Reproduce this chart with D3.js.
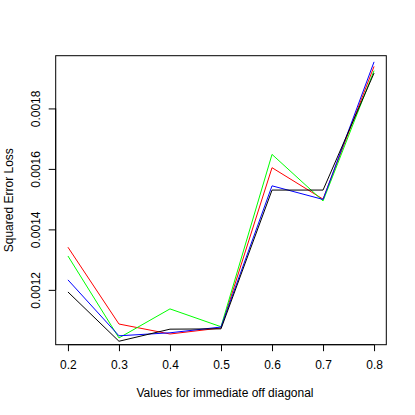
<!DOCTYPE html>
<html>
<head>
<meta charset="utf-8">
<script src="https://cdn.jsdelivr.net/npm/d3@7"></script>
<style>
  body { margin: 0; background: #fff; }
  text { font-family: "Liberation Sans", Arial, sans-serif; font-size: 12px; fill: #000; }
</style>
</head>
<body>
<div id="chart"></div>
<script>
// values
var xVals = [0.2, 0.3, 0.4, 0.5, 0.6, 0.7, 0.8];
var red   = [0.001341, 0.001087, 0.001054, 0.001074, 0.001604, 0.001500, 0.001939];
var green = [0.001312, 0.001041, 0.001137, 0.001078, 0.001648, 0.001494, 0.001925];
var blue  = [0.001233, 0.001048, 0.001058, 0.001077, 0.001544, 0.001499, 0.001954];
var black = [0.001193, 0.001030, 0.001070, 0.001071, 0.001530, 0.001530, 0.001917];
var xTicks = [0.2, 0.3, 0.4, 0.5, 0.6, 0.7, 0.8];
var yTicks = [0.0012, 0.0014, 0.0016, 0.0018];

var W = 415, H = 415;
var plotL = 55.7, plotR = 386.3, plotT = 55.7, plotB = 344.7;

// R style: 4% padding, ylim taken from the first (red) series
function pad(ext) {
    var d = (ext[1] - ext[0]) * 0.04;
    return [ext[0] - d, ext[1] + d];
}

var x = d3.scaleLinear().domain(pad(d3.extent(xVals))).range([plotL, plotR]);
var y = d3.scaleLinear().domain(pad(d3.extent(red))).range([plotB, plotT]);

var svg = d3.select("#chart")
    .append("svg")
    .attr("width", W)
    .attr("height", H);

var line = d3.line()
    .x(function(d, i) { return x(xVals[i]); })
    .y(function(d) { return y(d); });

var series = [[red, "#ff0000"], [green, "#00ff00"], [blue, "#0000ff"], [black, "#000000"]];

for (var i = 0; i < series.length; i++) {
    svg.append("path")
        .datum(series[i][0])
        .attr("d", line)
        .attr("fill", "none")
        .attr("stroke", series[i][1])
        .attr("stroke-width", 1);
}

// box
svg.append("rect")
    .attr("x", plotL)
    .attr("y", plotT)
    .attr("width", plotR - plotL)
    .attr("height", plotB - plotT)
    .attr("fill", "none")
    .attr("stroke", "#000")
    .attr("stroke-width", 1);

// x axis
var xAxis = d3.axisBottom(x)
    .tickValues(xTicks)
    .tickSize(6.5)
    .tickFormat(d3.format(".1f"));

var gx = svg.append("g")
    .attr("transform", "translate(0," + plotB + ")")
    .call(xAxis);
gx.select(".domain")
    .attr("d", "M" + x(xTicks[0]) + ",0H" + x(xTicks[xTicks.length - 1]));
gx.selectAll("text")
    .attr("font-family", "Liberation Sans, Arial, sans-serif")
    .attr("font-size", 12)
    .attr("dy", null)
    .attr("y", 24.6);

// y axis, labels rotated like R's default las=0
var yAxis = d3.axisLeft(y)
    .tickValues(yTicks)
    .tickSize(7)
    .tickFormat(d3.format(".4f"));

var gy = svg.append("g")
    .attr("transform", "translate(" + plotL + ",0)")
    .call(yAxis);
gy.select(".domain")
    .attr("d", "M0," + y(yTicks[0]) + "V" + y(yTicks[yTicks.length - 1]));
gy.selectAll("text")
    .attr("font-family", "Liberation Sans, Arial, sans-serif")
    .attr("font-size", 12)
    .attr("x", null)
    .attr("dy", null)
    .attr("y", 0)
    .attr("text-anchor", "middle")
    .attr("transform", "translate(-15.7,0) rotate(-90)");

// axis titles
svg.append("text")
    .attr("x", 225)
    .attr("y", 397.3)
    .attr("text-anchor", "middle")
    .text("Values for immediate off diagonal");

svg.append("text")
    .attr("transform", "translate(12.8," + (plotT + plotB) / 2 + ") rotate(-90)")
    .attr("text-anchor", "middle")
    .text("Squared Error Loss");
</script>
</body>
</html>
